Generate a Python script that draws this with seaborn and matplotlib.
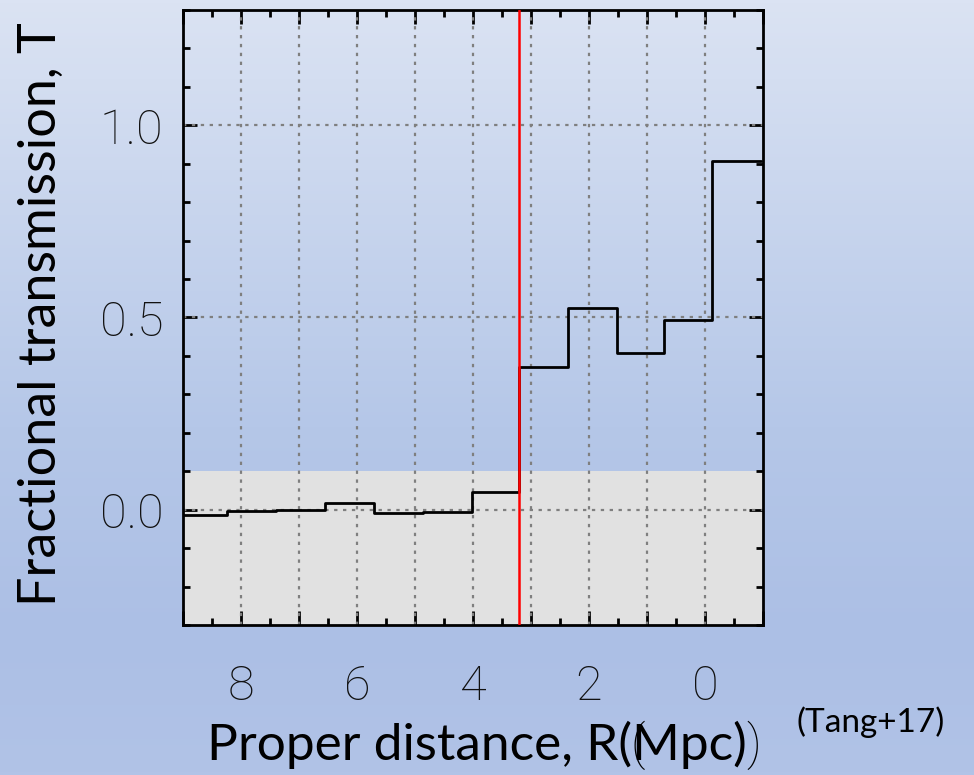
import numpy as np
import matplotlib
matplotlib.use("Agg")
import matplotlib.pyplot as plt
from matplotlib.ticker import MultipleLocator, FixedLocator, FixedFormatter
from matplotlib.colors import LinearSegmentedColormap
import seaborn as sns

# Binned transmission profile (proper distance in Mpc, ascending)
bin_edges = [-0.96, -0.12, 0.70, 1.52, 2.36, 3.20, 4.02, 4.87, 5.71, 6.55, 7.40, 8.24, 9.08]
transmission = [0.908, 0.494, 0.408, 0.524, 0.370, 0.045, -0.006, -0.008, 0.017, 0.000, -0.003, -0.013]

boundary_R = 3.2          # red marker position
noise_band = (-0.3, 0.1)  # shaded low-transmission band

x_tick_values = [8, 6, 4, 2, 0]
x_tick_labels = ["8", "6", "4", "2", "0"]
y_tick_values = [0.0, 0.5, 1.0]
y_tick_labels = ["0.0", "0.5", "1.0"]

sns.set_style("ticks")
plt.rcParams["font.family"] = ["Lato", "DejaVu Sans"]

THIN = ["Roboto", "DejaVu Sans"]

fig = plt.figure(figsize=(9.74, 7.75), dpi=100)

# slide-style vertical gradient background
bg = fig.add_axes([0, 0, 1, 1], zorder=-10)
cmap = LinearSegmentedColormap.from_list(
    "bg",
    [(0.0, (219/255, 227/255, 243/255)),
     (0.55, (181/255, 199/255, 232/255)),
     (0.82, (172/255, 191/255, 229/255)),
     (1.0, (177/255, 195/255, 231/255))])
grad = np.linspace(0, 1, 256).reshape(-1, 1)
bg.imshow(grad, aspect="auto", cmap=cmap, extent=[0, 1, 0, 1], origin="upper")
bg.set_axis_off()

ax = fig.add_axes([183/974, 1 - 625/775, (763 - 183)/974, (625 - 10)/775])
ax.set_facecolor("none")

ax.axhspan(noise_band[0], noise_band[1], color="#e1e1e1", lw=0, zorder=0)

step_x = bin_edges
step_y = transmission + [transmission[-1]]
sns.lineplot(x=step_x, y=step_y, drawstyle="steps-post", color="black",
             lw=2.0, sort=False, estimator=None, ax=ax, zorder=3)

ax.axvline(boundary_R, color="#ff0000", lw=1.8, zorder=4)

ax.set_xlim(9, -1)
ax.set_ylim(-0.3, 1.3)

# grid only at integer distances and at the labelled transmission levels
for xv in range(0, 9):
    ax.axvline(xv, color="#7f7f7f", lw=1.6, ls=(0, (1.5, 2.5)), zorder=1)
for yv in y_tick_values:
    ax.axhline(yv, color="#7f7f7f", lw=1.6, ls=(0, (1.5, 2.5)), zorder=1)

ax.xaxis.set_major_locator(MultipleLocator(1))
ax.xaxis.set_minor_locator(MultipleLocator(0.5))
ax.yaxis.set_major_locator(FixedLocator(y_tick_values))
ax.yaxis.set_major_formatter(FixedFormatter(y_tick_labels))
ax.yaxis.set_minor_locator(MultipleLocator(0.1))
ax.set_xticklabels([])

ax.tick_params(which="both", direction="in", top=True, right=True, color="black")
ax.tick_params(which="major", length=10, width=2)
ax.tick_params(which="minor", length=5, width=2)
ax.tick_params(axis="y", which="major", pad=14)

for lab in ax.get_yticklabels():
    lab.set_family(THIN)
    lab.set_fontweight(100)
    lab.set_fontsize(35)
    lab.set_color("#111111")

for xv, txt in zip(x_tick_values, x_tick_labels):
    ax.annotate(txt, xy=(xv, 0), xycoords=("data", "axes fraction"),
                xytext=(0, -28), textcoords="offset points",
                ha="center", va="top", fontsize=35, color="#111111",
                family=THIN, fontweight=100)

for s in ax.spines.values():
    s.set_linewidth(2)
    s.set_color("black")
    s.set_visible(True)

fig.text(0.043, 1 - 314/775, "Fractional transmission, T", rotation=90,
         ha="center", va="center", fontsize=37.5, color="black")
fig.text(207/974, 1 - 745/775, "Proper distance, R(Mpc)", ha="left",
         va="center", fontsize=37, color="black")
# faint duplicated brackets around the unit
fig.text(630/974, 1 - 745/775, "(", ha="left", va="center", fontsize=35,
         color="black", family=THIN, fontweight=100)
fig.text(746/974, 1 - 745/775, ")", ha="left", va="center", fontsize=35,
         color="black", family=THIN, fontweight=100)
fig.text(945/974, 1 - 722/775, "(Tang+17)", ha="right", va="center",
         fontsize=24, color="black")

fig.savefig("out.png", dpi=100)
